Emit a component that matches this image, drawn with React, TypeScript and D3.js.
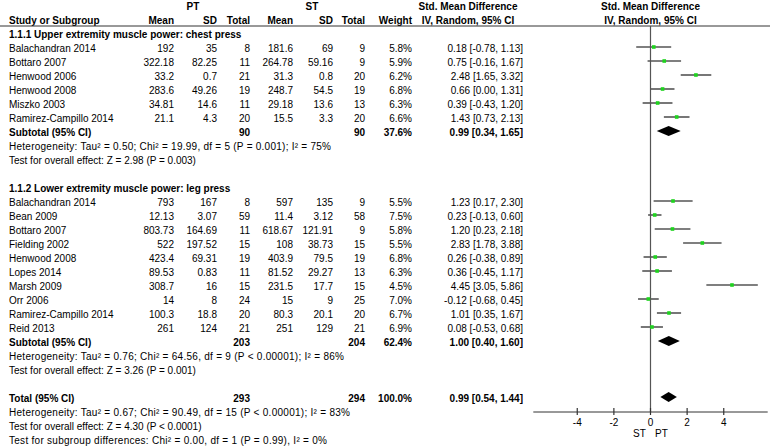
import React, { useEffect, useRef } from 'react';
import * as d3 from 'd3';

// subgroup 1.1.1 upper extremity
const names1 = ["Balachandran 2014", "Bottaro 2007", "Henwood 2006", "Henwood 2008", "Miszko 2003", "Ramirez-Campillo 2014"];
const ptMean1 = [192, 322.18, 33.2, 283.6, 34.81, 21.1];
const ptSd1 = [35, 82.25, 0.7, 49.26, 14.6, 4.3];
const ptN1 = [8, 11, 21, 19, 11, 20];
const stMean1 = [181.6, 264.78, 31.3, 248.7, 29.18, 15.5];
const stSd1 = [69, 59.16, 0.8, 54.5, 13.6, 3.3];
const stN1 = [9, 9, 20, 19, 13, 20];
const weight1 = [5.8, 5.9, 6.2, 6.8, 6.3, 6.6];
const smd1 = [0.18, 0.75, 2.48, 0.66, 0.39, 1.43];
const lo1 = [-0.78, -0.16, 1.65, 0.0, -0.43, 0.73];
const hi1 = [1.13, 1.67, 3.32, 1.31, 1.2, 2.13];
const sub1 = { pt: 90, st: 90, w: 37.6, est: 0.99, lo: 0.34, hi: 1.65 };

// subgroup 1.1.2 lower extremity
const names2 = ["Balachandran 2014", "Bean 2009", "Bottaro 2007", "Fielding 2002", "Henwood 2008", "Lopes 2014", "Marsh 2009", "Orr 2006", "Ramirez-Campillo 2014", "Reid 2013"];
const ptMean2 = [793, 12.13, 803.73, 522, 423.4, 89.53, 308.7, 14, 100.3, 261];
const ptSd2 = [167, 3.07, 164.69, 197.52, 69.31, 0.83, 16, 8, 18.8, 124];
const ptN2 = [8, 59, 11, 15, 19, 11, 15, 24, 20, 21];
const stMean2 = [597, 11.4, 618.67, 108, 403.9, 81.52, 231.5, 15, 80.3, 251];
const stSd2 = [135, 3.12, 121.91, 38.73, 79.5, 29.27, 17.7, 9, 20.1, 129];
const stN2 = [9, 58, 9, 15, 19, 13, 15, 25, 20, 21];
const weight2 = [5.5, 7.5, 5.8, 5.5, 6.8, 6.3, 4.5, 7.0, 6.7, 6.9];
const smd2 = [1.23, 0.23, 1.2, 2.83, 0.26, 0.36, 4.45, -0.12, 1.01, 0.08];
const lo2 = [0.17, -0.13, 0.23, 1.78, -0.38, -0.45, 3.05, -0.68, 0.35, -0.53];
const hi2 = [2.3, 0.6, 2.18, 3.88, 0.89, 1.17, 5.86, 0.45, 1.67, 0.68];
const sub2 = { pt: 203, st: 204, w: 62.4, est: 1.0, lo: 0.4, hi: 1.6 };

const total = { pt: 293, st: 294, w: 100.0, est: 0.99, lo: 0.54, hi: 1.44 };

const axisTicks = [-4, -2, 0, 2, 4];

const notes1 = [
  "Heterogeneity: Tau² = 0.50; Chi² = 19.99, df = 5 (P = 0.001); I² = 75%",
  "Test for overall effect: Z = 2.98 (P = 0.003)",
];
const notes2 = [
  "Heterogeneity: Tau² = 0.76; Chi² = 64.56, df = 9 (P < 0.00001); I² = 86%",
  "Test for overall effect: Z = 3.26 (P = 0.001)",
];
const notesTotal = [
  "Heterogeneity: Tau² = 0.67; Chi² = 90.49, df = 15 (P < 0.00001); I² = 83%",
  "Test for overall effect: Z = 4.30 (P < 0.0001)",
  "Test for subgroup differences: Chi² = 0.00, df = 1 (P = 0.99), I² = 0%",
];
// rendered widths of the lines with superscripts (wider in the source)
const notes1Len = [322, 0];
const notes2Len = [335, 0];
const notesTotalLen = [341, 0, 318];

const W = 777;
const H = 448;

export default function App() {
  const svgRef = useRef<SVGSVGElement>(null);

  useEffect(() => {
    document.body.style.margin = "0";
    if (!svgRef.current) return;
    const svg = d3.select(svgRef.current);
    svg.selectAll("*").remove();

    const font = "'Liberation Sans', Arial, sans-serif";
    const fs = 10;
    const row = d3.scaleLinear().domain([0, 28]).range([48, 440]);
    const x = d3.scaleLinear().domain([-6.4, 6.4]).range([533.3, 767.7]);

    // column right edges
    const col = { ptMean: 174, ptSd: 217, ptN: 250, stMean: 293, stSd: 333, stN: 365, w: 412, ci: 523 };
    const left = 9;

    const g = svg.append("g").style("font-family", font).style("font-size", `${fs}px`);

    const txt = (s: string, xx: number, yy: number, anchor = "start", bold = false, len = 0) => {
      const t = g.append("text")
        .attr("x", xx)
        .attr("y", yy + 3.5)
        .attr("text-anchor", anchor)
        .attr("font-weight", bold ? "bold" : "normal")
        .attr("fill", "#000")
        .text(s);
      if (len > 0) t.attr("textLength", len).attr("lengthAdjust", "spacing");
      return t;
    };

    const ciText = (e: number, l: number, h: number) => `${e.toFixed(2)} [${l.toFixed(2)}, ${h.toFixed(2)}]`;

    // header
    txt("PT", 193, row(-3), "middle", true);
    txt("ST", 312, row(-3), "middle", true);
    txt("Std. Mean Difference", 468, row(-3), "middle", true);
    txt("Std. Mean Difference", x(0), row(-3), "middle", true);
    txt("Study or Subgroup", left, row(-2), "start", true);
    txt("Mean", col.ptMean, row(-2), "end", true);
    txt("SD", col.ptSd, row(-2), "end", true);
    txt("Total", col.ptN, row(-2), "end", true);
    txt("Mean", col.stMean, row(-2), "end", true);
    txt("SD", col.stSd, row(-2), "end", true);
    txt("Total", col.stN, row(-2), "end", true);
    txt("Weight", col.w, row(-2), "end", true);
    txt("IV, Random, 95% CI", 468, row(-2), "middle", true);
    txt("IV, Random, 95% CI", x(0), row(-2), "middle", true);

    g.append("line")
      .attr("x1", 0).attr("x2", 770)
      .attr("y1", 26).attr("y2", 26)
      .attr("stroke", "#333").attr("stroke-width", 1);

    // zero line
    g.append("line")
      .attr("x1", x(0)).attr("x2", x(0))
      .attr("y1", 26).attr("y2", row(26))
      .attr("stroke", "#555").attr("stroke-width", 1.2);

    const diamond = (d: { est: number; lo: number; hi: number }, y: number) => {
      const path = d3.path();
      path.moveTo(x(d.lo), y);
      path.lineTo(x(d.est), y - 5);
      path.lineTo(x(d.hi), y);
      path.lineTo(x(d.est), y + 5);
      path.closePath();
      g.append("path").attr("d", path.toString()).attr("fill", "#000");
    };

    const drawGroup = (
      start: number, title: string, names: string[], pm: number[], ps: number[], pn: number[],
      sm: number[], ss: number[], sn: number[], w: number[], e: number[], lo: number[], hi: number[],
      sub: typeof sub1, notes: string[], lens: number[]
    ) => {
      txt(title, left, row(start), "start", true);
      names.forEach((n, i) => {
        const y = row(start + 1 + i);
        txt(n, left, y);
        txt(String(pm[i]), col.ptMean, y, "end");
        txt(String(ps[i]), col.ptSd, y, "end");
        txt(String(pn[i]), col.ptN, y, "end");
        txt(String(sm[i]), col.stMean, y, "end");
        txt(String(ss[i]), col.stSd, y, "end");
        txt(String(sn[i]), col.stN, y, "end");
        txt(`${w[i].toFixed(1)}%`, col.w, y, "end");
        txt(ciText(e[i], lo[i], hi[i]), col.ci, y, "end");
        const yl = y - 1;
        g.append("line")
          .attr("x1", x(lo[i])).attr("x2", x(hi[i]))
          .attr("y1", yl).attr("y2", yl)
          .attr("stroke", "#555").attr("stroke-width", 1.6);
        g.append("rect")
          .attr("x", x(e[i]) - 1.8).attr("y", yl - 1.8)
          .attr("width", 3.6).attr("height", 3.6)
          .attr("fill", "#1ed31e");
      });
      const sy = row(start + 1 + names.length);
      txt("Subtotal (95% CI)", left, sy, "start", true);
      txt(String(sub.pt), col.ptN, sy, "end", true);
      txt(String(sub.st), col.stN, sy, "end", true);
      txt(`${sub.w.toFixed(1)}%`, col.w, sy, "end", true);
      txt(ciText(sub.est, sub.lo, sub.hi), col.ci, sy, "end", true);
      diamond(sub, sy - 1);
      notes.forEach((s, k) => txt(s, left, row(start + 2 + names.length + k), "start", false, lens[k]));
    };

    drawGroup(-1, "1.1.1 Upper extremity muscle power: chest press", names1, ptMean1, ptSd1, ptN1,
      stMean1, stSd1, stN1, weight1, smd1, lo1, hi1, sub1, notes1, notes1Len);
    drawGroup(10, "1.1.2 Lower extremity muscle power: leg press", names2, ptMean2, ptSd2, ptN2,
      stMean2, stSd2, stN2, weight2, smd2, lo2, hi2, sub2, notes2, notes2Len);

    // total
    const ty = row(25);
    txt("Total (95% CI)", left, ty, "start", true);
    txt(String(total.pt), col.ptN, ty, "end", true);
    txt(String(total.st), col.stN, ty, "end", true);
    txt(`${total.w.toFixed(1)}%`, col.w, ty, "end", true);
    txt(ciText(total.est, total.lo, total.hi), col.ci, ty, "end", true);
    diamond(total, ty - 1);
    notesTotal.forEach((s, k) => txt(s, left, row(26 + k), "start", false, notesTotalLen[k]));

    // axis
    const ay = row(26);
    const axisG = g.append("g").attr("transform", `translate(0,${ay})`);
    axisG.append("line")
      .attr("x1", x.range()[0]).attr("x2", x.range()[1])
      .attr("stroke", "#333").attr("stroke-width", 1);
    axisTicks.forEach(t => {
      axisG.append("line")
        .attr("x1", x(t)).attr("x2", x(t))
        .attr("y1", -4).attr("y2", 3)
        .attr("stroke", "#333").attr("stroke-width", 1.2);
      axisG.append("text")
        .attr("x", x(t)).attr("y", 13.5)
        .attr("text-anchor", "middle")
        .attr("fill", "#000")
        .text(String(t));
    });
    txt("ST", x(0) - 11, ay + 21, "middle");
    txt("PT", x(0) + 11, ay + 21, "middle");
  }, []);

  return (
    <svg ref={svgRef} width={W} height={H} style={{ display: "block", background: "#fff" }} />
  );
}
